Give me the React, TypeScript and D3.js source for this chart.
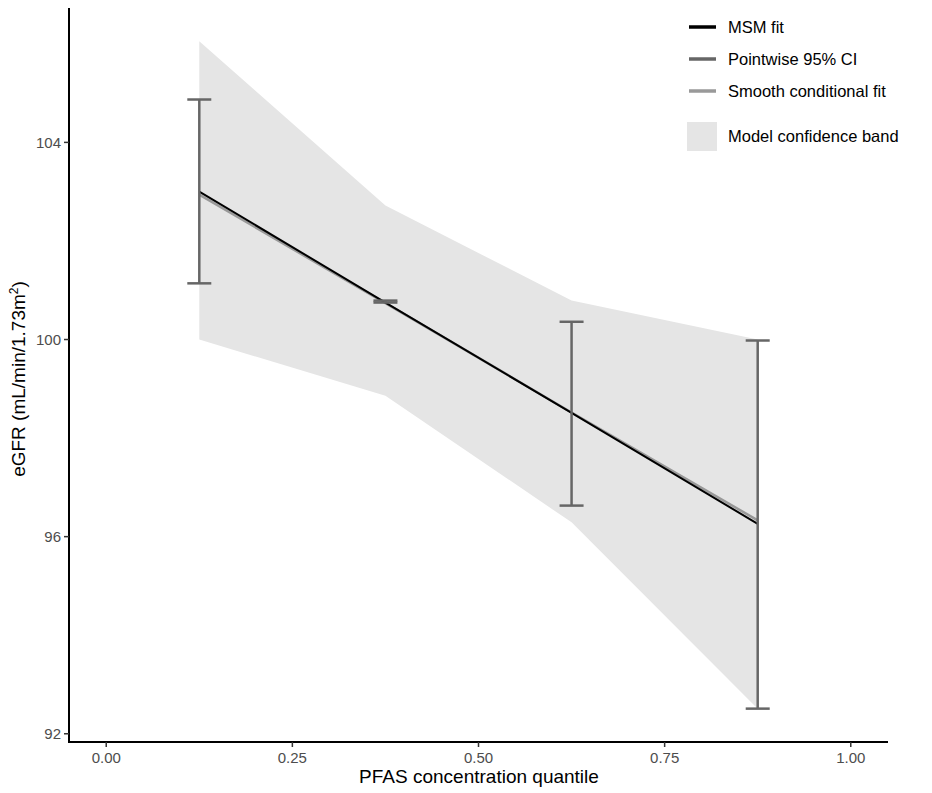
import { useEffect } from "react";
import * as d3 from "d3";

// quantile positions of the four PFAS groups
const quantiles = [0.125, 0.375, 0.625, 0.875];

// MSM fit and smooth conditional fit (eGFR)
const msmFit = [103.0, 100.75, 98.51, 96.26];
const smoothFit = [102.94, 100.74, 98.52, 96.33];

// pointwise 95% CI
const ciLower = [101.14, 100.75, 96.63, 92.51];
const ciUpper = [104.87, 100.79, 100.36, 99.98];

// model confidence band
const bandLower = [100.0, 98.86, 96.29, 92.51];
const bandUpper = [106.05, 102.72, 100.79, 100.0];

const xTicks = [0, 0.25, 0.5, 0.75, 1];
const yTicks = [92, 96, 100, 104];

const legendItems = ["MSM fit", "Pointwise 95% CI", "Smooth conditional fit"];
const legendColors = ["#000000", "#666666", "#999999"];

const W = 932;
const H = 793;
const FONT = "'Liberation Sans', Arial, sans-serif";

const App = () => {
  useEffect(() => {
    document.body.style.margin = "0";
  }, []);

  //scales
  const lo = d3.min([...ciLower, ...bandLower]) as number;
  const hi = d3.max([...ciUpper, ...bandUpper]) as number;
  const pad = (hi - lo) * 0.05;

  const x = d3.scaleLinear().domain([-0.05, 1.05]).range([69, 888]);
  const y = d3.scaleLinear().domain([lo - pad, hi + pad]).range([742, 8]);

  const band = d3
    .area<number>()
    .x((d, i) => x(quantiles[i]))
    .y0((d, i) => y(bandLower[i]))
    .y1((d) => y(d));

  const line = d3
    .line<number>()
    .x((d, i) => x(quantiles[i]))
    .y((d) => y(d));

  const capHalf = 12;

  return (
    <svg width={W} height={H} style={{ display: "block" }} fontFamily={FONT}>
      <rect width={W} height={H} fill="#ffffff" />

      {/* confidence band */}
      <path d={band(bandUpper) || ""} fill="#e5e5e5" />

      {/* fits */}
      <path d={line(smoothFit) || ""} fill="none" stroke="#999999" strokeWidth={2.5} />
      <path d={line(msmFit) || ""} fill="none" stroke="#000000" strokeWidth={2} />

      {/* error bars */}
      {quantiles.map((q, i) => (
        <g key={i} stroke="#666666" strokeWidth={2.5} fill="none">
          <line x1={x(q)} x2={x(q)} y1={y(ciLower[i])} y2={y(ciUpper[i])} />
          <line x1={x(q) - capHalf} x2={x(q) + capHalf} y1={y(ciLower[i])} y2={y(ciLower[i])} />
          <line x1={x(q) - capHalf} x2={x(q) + capHalf} y1={y(ciUpper[i])} y2={y(ciUpper[i])} />
        </g>
      ))}

      {/* axes */}
      <line x1={x(-0.05)} x2={x(-0.05)} y1={y.range()[1]} y2={y.range()[0] + 1} stroke="#000" strokeWidth={2} />
      <line x1={x(-0.05) - 1} x2={x(1.05)} y1={y.range()[0]} y2={y.range()[0]} stroke="#000" strokeWidth={2} />

      {yTicks.map((t) => (
        <g key={t} transform={`translate(${x(-0.05)}, ${y(t)})`}>
          <line x1={-5} x2={0} stroke="#333" strokeWidth={1.5} />
          <text x={-8} dy="0.35em" textAnchor="end" fontSize={15} fill="#4d4d4d">
            {t}
          </text>
        </g>
      ))}

      {xTicks.map((t) => (
        <g key={t} transform={`translate(${x(t)}, ${y.range()[0]})`}>
          <line y1={0} y2={5} stroke="#333" strokeWidth={1.5} />
          <text y={21} textAnchor="middle" fontSize={15} fill="#4d4d4d">
            {t.toFixed(2)}
          </text>
        </g>
      ))}

      {/* axis titles */}
      <text x={479} y={783} textAnchor="middle" fontSize={19} fill="#000">
        PFAS concentration quantile
      </text>
      <text
        transform={`translate(25, 379) rotate(-90)`}
        textAnchor="middle"
        fontSize={19}
        fill="#000"
      >
        eGFR (mL/min/1.73m<tspan dy={-7} fontSize={12}>2</tspan>
        <tspan dy={7}>)</tspan>
      </text>

      {/* legend */}
      {legendItems.map((label, i) => (
        <g key={label} transform={`translate(689, ${27 + i * 32})`}>
          <line x1={0} x2={27} stroke={legendColors[i]} strokeWidth={3.5} />
          <text x={39} dy="0.36em" fontSize={16.5} fill="#000">
            {label}
          </text>
        </g>
      ))}
      <g transform="translate(687, 122)">
        <rect width={30} height={29} fill="#e5e5e5" />
        <text x={41} y={14.5} dy="0.36em" fontSize={16.5} fill="#000">
          Model confidence band
        </text>
      </g>
    </svg>
  );
};

export default App;
